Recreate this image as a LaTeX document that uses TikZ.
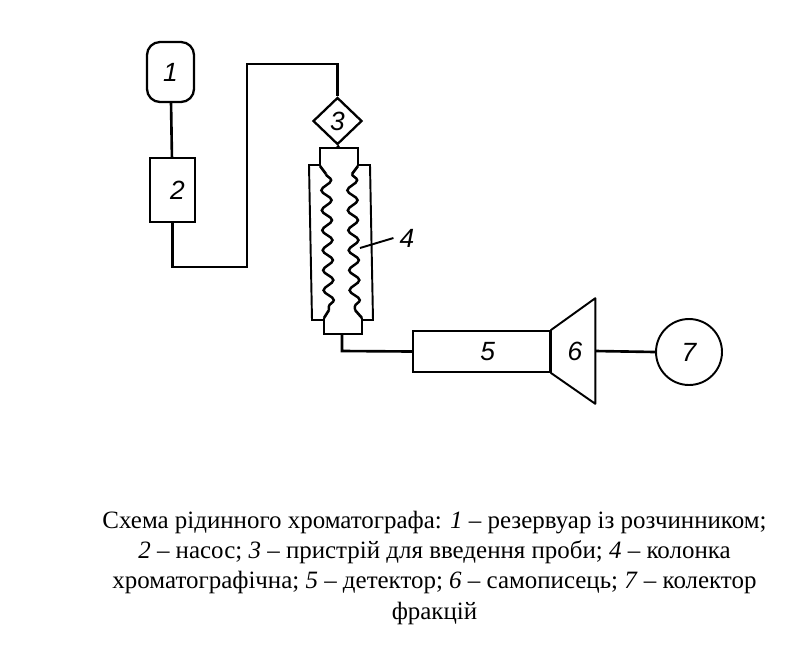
\documentclass[tikz,border=0pt]{standalone}
\usepackage{fontspec}
\setmainfont{Liberation Serif}
\setsansfont{Liberation Sans}
\usetikzlibrary{positioning,shapes.geometric,decorations.pathmorphing}
\tikzset{
    digit/.style={font=\sffamily\itshape\fontsize{15}{15}\selectfont},
    unitbox/.style={draw, line width=1.3pt, inner sep=0pt, digit},
    conn/.style={line width=1.5pt},
    jacket/.style={line width=1.1pt},
    coil/.style={line width=1.4pt, decorate, decoration={snake, segment length=0.4cm, amplitude=0.1cm}},
}

\begin{document}
\begin{tikzpicture}[x=0.02cm, y=-0.02cm]
    \useasboundingbox (0,0) rectangle (788,650);
    \node[unitbox, rectangle, rounded corners=0.26cm, minimum width=0.94cm, minimum height=1.2cm] (tank) at (170.5,72) {1};
    \node[unitbox, rectangle, minimum width=0.9cm, minimum height=1.28cm] (pump) at (172.5,190) {\hspace{0.2cm}2};
    \node[unitbox, diamond, minimum width=0.98cm, minimum height=0.94cm] (inj) at (337.5,121) {3};
    \node[unitbox, rectangle, line width=1.1pt, minimum width=2.74cm, minimum height=0.82cm] (det) at (481.5,351.5) {\hspace{0.25cm}5};
    \node[digit, inner sep=0pt, minimum width=0.9cm, minimum height=2.1cm] (rec) at (572.5,351) {\hspace{0.1cm}6};
    \node[unitbox, circle, line width=1.1pt, minimum size=1.32cm] (coll) at (689,352) {7};
    \coordinate (coltop) at (339,148);
    \coordinate (colbot) at (342,334);
    \coordinate (bendA) at (247,267);
    \coordinate (bendB) at (247,64);
    \coordinate (bendC) at (342,351);

    \draw[jacket, line join=round] (rec.north east) -- (rec.south east) -- (det.south east) -- (det.north east) -- cycle;

    \draw[conn] (tank) -- (pump);
    \draw[conn] (pump.south) |- (bendA) -- (bendB) -| (inj.north);
    \draw[conn] (inj.south) -- (coltop);
    \draw[conn] (colbot) -- (bendC) -- (det.west);
    \draw[conn] (rec.east) -- (coll.west);

    \draw[conn] (320,166) -- (320,148) -- (358,148) -- (358,166);
    \draw[conn] (324,318) -- (324,334) -- (362,334) -- (362,318);
    \draw[jacket] (320,165) -- (309,165) -- (312,320) -- (324,320);
    \draw[jacket] (358,165) -- (370,165) -- (373,320) -- (362,320);
    \foreach \a/\b/\c/\d in {326/174/329/310, 352/174/355/310} {
        \draw[coil] (\a,\b) -- (\c,\d);
    }
    \draw[conn] (320,166) -- (326,174);
    \draw[conn] (358,166) -- (352,174);
    \draw[conn] (329,310) -- (324,318);
    \draw[conn] (355,310) -- (362,318);

    \coordinate (lead) at (360,248);
    \node[digit] (collabel) at (407,238) {4};
    \draw[jacket] (lead) -- (collabel.west);

    \node[font=\fontsize{14.2}{17.2}\selectfont, align=center, anchor=north] (caption) at (434.5,505) {
        Схема рідинного хроматографа: \textit{1} – резервуар із розчинником;\\
        \textit{2} – насос; \textit{3} – пристрій для введення проби; \textit{4} – колонка\\
        хроматографічна; \textit{5} – детектор; \textit{6} – самописець; \textit{7} – колектор\\
        фракцій};
\end{tikzpicture}
\end{document}
